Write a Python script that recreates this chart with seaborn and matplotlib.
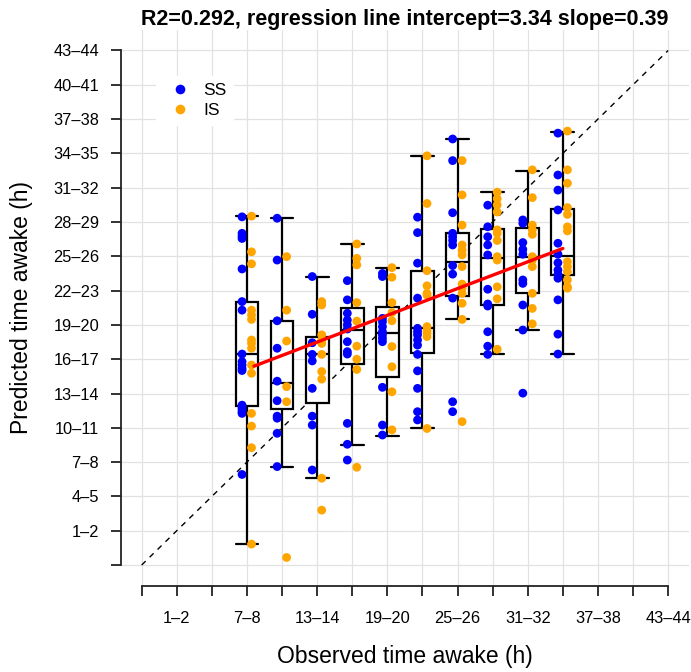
import numpy as np
import pandas as pd
import matplotlib
matplotlib.use("Agg")
import matplotlib.pyplot as plt
import seaborn as sns

# ---------------- data ----------------
# bin labels along both axes (position 0 is an unlabeled bin)
bin_labels = ["", "1–2", "4–5", "7–8", "10–11", "13–14", "16–17", "19–20",
              "22–23", "25–26", "28–29", "31–32", "34–35", "37–38", "40–41", "43–44"]

# observed bins that carry a box
box_bins = ["7–8", "10–11", "13–14", "16–17", "19–20",
            "22–23", "25–26", "28–29", "31–32", "34–35"]

# box summaries (in bin units on the predicted axis)
box_low = [0.61, 2.87, 2.53, 3.51, 3.77, 3.98, 7.16, 6.14, 6.85, 6.15]
box_q1 = [4.64, 4.55, 4.73, 5.85, 5.47, 6.17, 7.84, 7.58, 7.92, 8.45]
box_median = [6.14, 5.30, 6.14, 6.85, 6.77, 6.90, 8.84, 8.94, 8.99, 9.01]
box_q3 = [7.66, 7.11, 6.66, 7.48, 7.51, 8.57, 9.69, 9.80, 9.83, 10.37]
box_high = [10.17, 10.11, 8.41, 9.37, 8.67, 11.93, 12.42, 10.87, 11.50, 12.63]

# individual predictions, SS group
ss_values = [
    [10.15, 9.67, 9.59, 9.52, 8.63, 7.68, 7.43, 6.15, 5.93, 5.83, 5.73, 5.67,
     4.66, 4.60, 4.54, 4.47, 4.42, 2.64],
    [10.11, 8.89, 7.12, 6.32, 5.36, 4.79, 4.34, 4.28, 3.84, 2.87],
    [8.41, 7.31, 6.48, 6.14, 5.95, 5.15, 4.34, 4.08, 2.77],
    [8.29, 7.73, 7.34, 7.14, 7.00, 6.88, 6.51, 6.22, 6.15, 4.13, 3.52, 3.06],
    [8.50, 8.41, 7.19, 7.09, 6.95, 6.80, 6.71, 6.61, 6.51, 5.18, 4.08, 3.79],
    [10.14, 9.69, 8.80, 7.78, 6.90, 6.80, 6.71, 6.56, 6.41, 6.14, 5.66, 5.15,
     4.47, 4.23],
    [12.42, 11.79, 10.27, 9.67, 9.57, 9.46, 9.33, 8.73, 8.48, 7.78, 4.76, 4.47],
    [10.49, 9.86, 9.57, 9.33, 9.04, 8.04, 7.61, 7.55, 6.80, 6.38, 6.14],
    [10.06, 9.96, 9.40, 9.20, 9.06, 8.31, 8.21, 7.58, 6.85, 5.01],
    [12.59, 11.37, 10.93, 10.35, 9.38, 9.06, 8.81, 8.60, 8.47, 8.36, 7.73,
     6.73, 6.15],
]

# individual predictions, IS group
is_values = [
    [10.17, 9.13, 8.78, 7.43, 7.29, 7.16, 6.56, 6.46, 6.32, 5.83, 5.59, 4.42,
     4.05, 3.42, 0.61],
    [8.99, 7.43, 6.53, 5.20, 4.76, 0.22],
    [7.68, 7.58, 6.71, 6.56, 6.46, 6.14, 5.64, 5.42, 2.53, 1.60],
    [9.36, 8.94, 8.75, 7.65, 7.11, 6.38, 6.00, 5.70, 2.85],
    [8.67, 8.39, 7.65, 7.36, 7.12, 6.37, 5.78, 5.05, 3.94],
    [11.93, 10.54, 8.58, 8.14, 7.92, 7.87, 6.95, 6.83, 6.76, 6.66, 3.98],
    [11.79, 10.79, 9.91, 9.33, 9.18, 9.04, 8.70, 8.19, 8.07, 7.92, 7.63, 7.16,
     4.18],
    [10.87, 10.68, 10.50, 10.29, 9.77, 9.67, 9.46, 8.99, 8.89, 8.11, 7.76, 6.29],
    [11.52, 10.71, 9.91, 9.77, 9.64, 8.99, 8.89, 8.70, 7.92, 7.48, 7.03],
    [12.65, 11.52, 11.13, 10.42, 10.22, 9.86, 9.74, 8.84, 8.70, 8.55, 8.31,
     8.11, 8.07],
]

groups = ["SS", "IS"]
group_colors = {"SS": "#0000FF", "IS": "#FFA500"}

# regression line (title values) and observed range, in bin units
reg_r2 = 0.292
reg_intercept = 3.34
reg_slope = 0.39
reg_x_offset = 3.1          # bin-unit offset of the regression's x origin
reg_x_range = [3.2, 12.0]

# ---------------- figure ----------------
sns.set_theme(style="white")
plt.rcParams["font.family"] = ["Liberation Sans", "DejaVu Sans"]
plt.rcParams["text.color"] = "black"
plt.rcParams["axes.labelcolor"] = "black"

W, H = 691, 672
fig = plt.figure(figsize=(W / 100, H / 100), dpi=100)
ax = fig.add_axes([120.6 / W, 86.4 / H, 568.6 / W, 555.7 / H])

n = len(bin_labels)
ticks = np.arange(n)
ax.set_xlim(-0.6, n - 1 + 0.6)
ax.set_ylim(-0.6, n - 1 + 0.6)
ax.set_xticks(ticks)
ax.set_yticks(ticks)
ax.grid(True, color="#E2E2E2", lw=0.9)
ax.set_axisbelow(True)

# identity line
sns.lineplot(x=[ticks[0], ticks[-1]], y=[ticks[0], ticks[-1]], ax=ax,
             color="black", lw=1.0, linestyle=(0, (4, 4)), zorder=1)

# boxes
pos_of = {lab: i for i, lab in enumerate(bin_labels)}
box_pos = np.array([pos_of[b] for b in box_bins])
stats = np.column_stack([box_low, box_q1, box_median, box_q3, box_high])
box_df = pd.DataFrame({"pos": np.repeat(box_pos, 5), "val": stats.ravel()})
sns.boxplot(data=box_df, x="pos", y="val", native_scale=True, whis=(0, 100),
            width=0.65, color="white", linecolor="black", linewidth=1.6,
            saturation=1, showfliers=False, ax=ax, capwidths=0.65, zorder=2)

# points
rows = []
for p, ss, iv in zip(box_pos, ss_values, is_values):
    rows += [(p, v, "SS") for v in ss]
    rows += [(p, v, "IS") for v in iv]
pts = pd.DataFrame(rows, columns=["pos", "val", "group"])
offset = {"SS": -0.14, "IS": 0.13}
pts["x"] = pts["pos"] + pts["group"].map(offset)
sns.scatterplot(data=pts, x="x", y="val", hue="group", hue_order=groups,
                palette=group_colors, s=40, linewidth=0, ax=ax, zorder=3)

# regression line
lx = np.array(reg_x_range)
ly = reg_intercept + reg_slope * (lx + reg_x_offset)
sns.lineplot(x=lx, y=ly, ax=ax, color="#FF0000", lw=2.4, zorder=4)

# axes styling
ax.set_xticklabels([lab if i % 2 == 1 else "" for i, lab in enumerate(bin_labels)])
ax.set_yticklabels(bin_labels)
ax.set_xlabel("")
ax.set_ylabel("")
for s in ["top", "right"]:
    ax.spines[s].set_visible(False)
for s in ["left", "bottom"]:
    ax.spines[s].set_bounds(0, n - 1)
    ax.spines[s].set_color("#222222")
    ax.spines[s].set_linewidth(1.3)
ax.tick_params(axis="both", which="both", direction="out", length=7.5,
               width=1.3, color="#222222", labelsize=11.8, pad=8,
               left=True, bottom=True, labelcolor="black")
ax.tick_params(axis="x", pad=11)

# legend
leg = ax.legend(loc="upper left", bbox_to_anchor=(0.047, 0.932),
                frameon=True, facecolor="white", edgecolor="white",
                framealpha=1, fancybox=False, fontsize=12.5, handletextpad=0.3,
                labelspacing=0.25, borderpad=0.4, markerscale=1.1)

fig.text(405 / W, 1 - 20 / H,
         f"R2={reg_r2}, regression line intercept={reg_intercept} slope={reg_slope}",
         ha="center", va="center", fontsize=15.5, fontweight="bold")
fig.text(405 / W, 1 - 656 / H, "Observed time awake (h)", ha="center",
         va="center", fontsize=16.5)
fig.text(22 / W, 1 - 308 / H, "Predicted time awake (h)", ha="center",
         va="center", rotation=90, fontsize=16.5)

fig.savefig("out.png", dpi=100)
